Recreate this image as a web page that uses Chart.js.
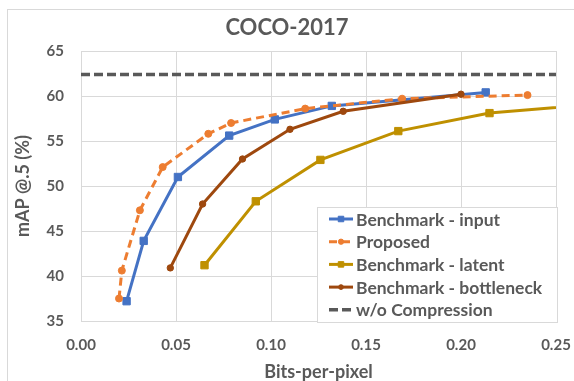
<!DOCTYPE html>
<html>
<head>
<meta charset="utf-8">
<script src="https://cdn.jsdelivr.net/npm/chart.js@4.4.0/dist/chart.umd.min.js"></script>
<style>
  html, body { margin: 0; padding: 0; background: #fff; }
</style>
</head>
<body>
<canvas id="chart" width="574" height="381"></canvas>
<script>
// chart texts
const titleText = 'COCO-2017';
const xTitle = 'Bits-per-pixel';
const yTitle = 'mAP @.5 (%)';

// series (bits-per-pixel, mAP @.5)
const inputBpp = [0.024, 0.033, 0.051, 0.078, 0.102, 0.132, 0.213];
const inputMap = [37.2, 43.9, 51.0, 55.6, 57.4, 58.9, 60.4];

const proposedBpp = [0.020, 0.0215, 0.031, 0.043, 0.067, 0.079, 0.118, 0.169, 0.235];
const proposedMap = [37.5, 40.6, 47.3, 52.1, 55.8, 57.0, 58.6, 59.7, 60.1];

const latentBpp = [0.065, 0.092, 0.126, 0.167, 0.215, 0.300];
const latentMap = [41.2, 48.3, 52.9, 56.1, 58.1, 59.6];

const bottleneckBpp = [0.047, 0.064, 0.085, 0.110, 0.138, 0.200];
const bottleneckMap = [40.9, 48.0, 53.0, 56.3, 58.3, 60.2];

const noCompressionBpp = [0, 0.25];
const noCompressionMap = [62.4, 62.4];

// axis ranges
const xMin = 0, xMax = 0.25, xStep = 0.05;
const yMin = 35, yMax = 65, yStep = 5;

const textColor = '#595959';
const gridColor = '#d9d9d9';
const fontFamily = 'Lato, "Open Sans", sans-serif';

function pairs(xs, ys) {
    return xs.map((x, i) => ({ x: x, y: ys[i] }));
}

// outer frame of the chart (only left and top edges show) and the title,
// centred on the whole picture like the original
const frame = {
    id: 'frame',
    beforeDraw(chart) {
        const ctx = chart.ctx;
        ctx.save();
        ctx.fillStyle = '#fff';
        ctx.fillRect(0, 0, chart.width, chart.height);
        ctx.strokeStyle = gridColor;
        ctx.lineWidth = 1;
        ctx.strokeRect(7.5, 9.5, chart.width + 10, chart.height + 10);
        ctx.fillStyle = textColor;
        ctx.font = 'bold 22px ' + fontFamily;
        ctx.textAlign = 'center';
        ctx.textBaseline = 'middle';
        ctx.fillText(titleText, chart.width / 2, 28);
        ctx.restore();
    }
};

// legend box sitting in the bottom-right corner of the plot
const boxLegend = {
    id: 'boxLegend',
    afterDraw(chart) {
        const ctx = chart.ctx;
        const area = chart.chartArea;
        const w = 240, h = 115, rowH = 22.7;
        const left = Math.round(area.right) - w + 1.5;
        const top = Math.round(area.bottom) - h + 1.5;
        ctx.save();
        ctx.fillStyle = '#fff';
        ctx.fillRect(left, top, w, h);
        ctx.strokeStyle = gridColor;
        ctx.lineWidth = 1;
        ctx.strokeRect(left, top, w, h);
        ctx.font = 'bold 17.5px ' + fontFamily;
        ctx.textBaseline = 'middle';
        chart.data.datasets.forEach((ds, i) => {
            const y = top + 11.5 + i * rowH;
            const x0 = left + 11.5, x1 = x0 + 24;
            ctx.save();
            ctx.strokeStyle = ds.borderColor;
            ctx.lineWidth = ds.borderWidth;
            ctx.setLineDash(ds.borderDash || []);
            ctx.beginPath();
            ctx.moveTo(x0, y);
            ctx.lineTo(x1, y);
            ctx.stroke();
            ctx.restore();
            if (ds.pointRadius > 0) {
                const r = ds.pointRadius * 0.75;
                const cx = (x0 + x1) / 2;
                ctx.fillStyle = ds.pointBackgroundColor;
                ctx.strokeStyle = ds.pointBackgroundColor;
                ctx.lineWidth = 1;
                ctx.beginPath();
                if (ds.pointStyle === 'rect') {
                    const s = r * Math.SQRT1_2;
                    ctx.rect(cx - s, y - s, 2 * s, 2 * s);
                } else {
                    ctx.arc(cx, y, r, 0, Math.PI * 2);
                }
                ctx.fill();
                ctx.stroke();
            }
            ctx.fillStyle = textColor;
            ctx.fillText(ds.label, x1 + 3, y + 1);
        });
        ctx.restore();
    }
};

function series(label, xs, ys, color, style, radius, dash, order) {
    return {
        label: label,
        data: pairs(xs, ys),
        borderColor: color,
        backgroundColor: color,
        pointBackgroundColor: color,
        pointBorderColor: color,
        borderWidth: 3,
        borderDash: dash,
        pointStyle: style,
        pointRadius: radius,
        pointBorderWidth: 1,
        tension: 0,
        order: order,
        clip: { left: 10, top: 10, right: 0, bottom: 10 }
    };
}

const datasets = [
    series('Benchmark - input', inputBpp, inputMap, '#4472C4', 'rect', 5.2, [], 5),
    series('Proposed', proposedBpp, proposedMap, '#ED7D31', 'circle', 3.5, [8, 5], 4),
    series('Benchmark - latent', latentBpp, latentMap, '#BF9000', 'rect', 5.2, [], 3),
    series('Benchmark - bottleneck', bottleneckBpp, bottleneckMap, '#9E480E', 'circle', 3.2, [], 2),
    series('w/o Compression', noCompressionBpp, noCompressionMap, '#595959', 'circle', 0, [9, 4], 1)
];
datasets[4].borderWidth = 3.5;

new Chart(document.getElementById('chart'), {
    type: 'line',
    data: { datasets: datasets },
    options: {
        responsive: false,
        animation: false,
        layout: { padding: { left: 0, right: 18, top: 51, bottom: 0 } },
        plugins: {
            legend: { display: false },
            tooltip: { enabled: false },
            title: { display: false }
        },
        scales: {
            x: {
                type: 'linear',
                min: xMin,
                max: xMax,
                ticks: {
                    stepSize: xStep,
                    padding: 0,
                    color: textColor,
                    font: { family: fontFamily, size: 15, weight: 'bold' },
                    callback: v => v.toFixed(2)
                },
                grid: { color: gridColor, drawTicks: true, tickLength: 15, tickColor: 'transparent' },
                border: { color: gridColor },
                title: {
                    display: true,
                    text: xTitle,
                    color: textColor,
                    font: { family: fontFamily, size: 18, weight: 'bold', lineHeight: 1 },
                    padding: { top: 0, bottom: 0 }
                },
                afterFit: s => { s.height = 60; }
            },
            y: {
                min: yMin,
                max: yMax,
                ticks: {
                    stepSize: yStep,
                    padding: 0,
                    color: textColor,
                    font: { family: fontFamily, size: 15, weight: 'bold' }
                },
                grid: { color: gridColor, drawTicks: true, tickLength: 17, tickColor: 'transparent' },
                border: { color: gridColor },
                title: {
                    display: true,
                    text: yTitle,
                    color: textColor,
                    font: { family: fontFamily, size: 18, weight: 'bold', lineHeight: 1 },
                    padding: { top: 14, bottom: 0 }
                },
                afterFit: s => { s.width = 81; }
            }
        }
    },
    plugins: [frame, boxLegend]
});
</script>
</body>
</html>
